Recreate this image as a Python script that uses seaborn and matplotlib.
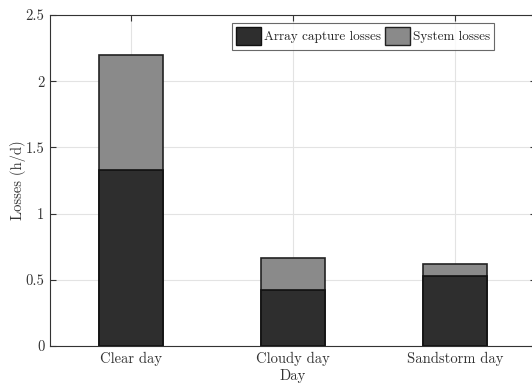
import matplotlib
matplotlib.use("Agg")
import matplotlib.pyplot as plt
import seaborn as sns
import pandas as pd
from matplotlib.patches import Patch

days = ["Clear day", "Cloudy day", "Sandstorm day"]
array_capture = [1.33, 0.42, 0.53]
system_losses = [0.87, 0.245, 0.09]

sns.set_style("white")
plt.rcParams['font.family'] = ['cmr10', 'DejaVu Serif']
plt.rcParams['axes.formatter.use_mathtext'] = True
plt.rcParams['font.size'] = 10

df = pd.DataFrame({"day": days, "array": array_capture,
                   "total": [a + s for a, s in zip(array_capture, system_losses)]})

fig = plt.figure(figsize=(5.32, 3.83), dpi=100)
ax = fig.add_axes([50/532, 37/383, 486/532, 331/383])

dark = "#2e2e2e"
grey = "#8a8a8a"
sns.barplot(data=df, x="day", y="total", color=grey, width=0.4, ax=ax,
            edgecolor="#222222", linewidth=1.2, saturation=1)
sns.barplot(data=df, x="day", y="array", color=dark, width=0.4, ax=ax,
            edgecolor="#111111", linewidth=1.2, saturation=1)

ax.set_xlim(-0.5, 2.5)
ax.set_ylim(0, 2.5)
ax.set_yticks([0, 0.5, 1, 1.5, 2, 2.5])
ax.set_yticklabels(["0", "0.5", "1", "1.5", "2", "2.5"])
ax.grid(True, color="#e3e3e3", linewidth=0.8)
ax.set_axisbelow(True)
for s in ax.spines.values():
    s.set_color("#333333")
    s.set_linewidth(0.8)
ax.tick_params(direction="in", length=4, colors="#333333", labelsize=10.5,
               top=True, right=True, bottom=True, left=True, pad=4)
ax.set_xlabel("Day", fontsize=10.5, color="#333333", labelpad=2)
ax.set_ylabel("Losses (h/d)", fontsize=10.5, color="#333333")
ax.yaxis.set_label_coords(-24/486, 0.5)

handles = [Patch(facecolor=dark, edgecolor="#111111", label="Array capture losses"),
           Patch(facecolor=grey, edgecolor="#222222", label="System losses")]
leg = ax.legend(handles=handles, ncol=2, loc="upper left",
                bbox_to_anchor=(179/486, 0.985), frameon=True, fancybox=False,
                edgecolor="#444444", handlelength=1.9, handleheight=1.7,
                handletextpad=0.2, columnspacing=0.3, borderpad=0.35,
                borderaxespad=0.2, fontsize=9.5)
leg.get_frame().set_linewidth(0.8)

fig.savefig("out.png", dpi=100)
